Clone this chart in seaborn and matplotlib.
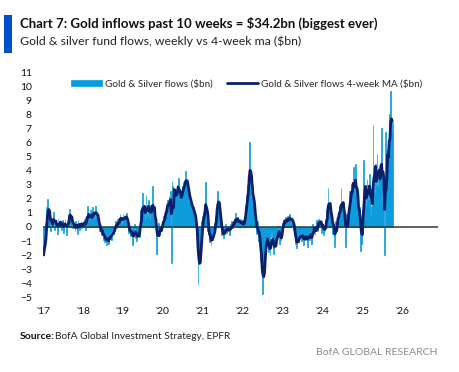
import numpy as np
import pandas as pd
import matplotlib
matplotlib.use("Agg")
import matplotlib.pyplot as plt
import seaborn as sns

# weekly gold & silver fund flows ($bn), one list per year
flows_2017 = [-2.0, -1.2, -0.8, 0.3, 1.4, 2.0, 0.6, 1.0,
              0.8, -0.3, 0.5, 0.2, 0.4, 1.1, -0.2, 0.3,
              0.5, 0.2, -0.5, 0.6, 0.3, 0.1, 0.4, -0.2,
              0.3, 0.5, -0.4, 0.2, 0.6, 0.1, -0.6, 0.4,
              0.9, 0.5, 1.3, 0.7, 0.3, 0.6, -0.1, 0.2,
              0.1, -0.3, 0.4, 0.2, -0.5, 0.5, 0.3, -0.2,
              0.2, 0.4, -0.1, 0.3]
flows_2018 = [0.3, 0.1, 0.6, -0.2, 0.8, 1.5, 0.4, 0.9,
              0.5, 1.2, 0.3, 0.7, 1.4, 0.8, 1.1, 0.6,
              1.5, 0.9, 0.7, 0.4, 0.2, -0.3, 0.1, -0.4,
              -0.6, -0.2, -0.9, -0.5, -1.1, -0.7, -1.3, -0.6,
              -0.9, -1.2, -0.4, -0.8, -0.3, -0.9, -0.2, -0.5,
              0.1, -0.3, 0.4, 0.2, -0.1, 0.6, 0.3, 0.5,
              0.9, 0.4, 0.7, 0.2]
flows_2019 = [0.9, 0.5, 0.8, 0.6, 1.0, 0.3, 0.2, -0.4,
              -0.2, -0.7, 0.1, -0.5, -1.3, -0.2, -0.6, 0.2,
              -0.8, -0.4, -1.0, -0.5, -0.3, -0.7, 0.4, 1.2,
              0.8, 2.4, 1.1, 0.9, 1.5, 0.6, 2.3, 1.0,
              0.7, 1.9, 1.2, 0.5, 1.6, 0.9, 2.9, 0.8,
              0.6, 1.3, 0.2, -0.1, -1.9, -0.5, 0.3, -0.4,
              -0.6, 0.1, -0.2, 0.4]
flows_2020 = [0.4, 0.8, 0.3, 1.2, 1.7, 1.1, 1.9, 1.4,
              2.2, 1.6, 2.6, -2.6, 3.3, 2.9, 2.0, 2.5,
              1.8, 2.7, 2.2, 3.0, 3.5, 2.1, 1.9, 2.4,
              2.0, 2.6, 2.9, 3.2, 2.7, 3.3, 4.0, 3.1,
              2.8, 2.2, 2.5, 1.7, 1.9, 1.3, 1.6, 1.0,
              1.4, 0.6, 0.9, 0.2, -0.5, -1.5, -4.1, -2.6,
              -2.2, -1.3, -0.6, 0.4]
flows_2021 = [0.8, 1.1, 0.6, 1.5, 3.2, 0.4, -0.3, 0.2,
              -0.6, -1.1, -0.8, -1.3, -0.5, -0.9, -0.2, -0.6,
              0.3, 0.8, 1.2, 2.6, 1.9, 1.5, 0.9, 0.4,
              -0.2, -0.6, -0.3, -0.8, -0.1, -0.5, 0.2, -0.4,
              -0.1, -0.3, 0.1, -0.6, 0.2, -0.2, 0.4, -0.1,
              0.3, 0.6, 0.1, 1.0, 0.4, 0.2, 0.7, 0.3,
              0.5, -0.1, 0.6, 0.2]
flows_2022 = [0.2, 0.5, -0.1, 0.7, 1.5, 2.3, 1.8, 2.9,
              3.4, 6.1, 3.8, 2.6, 2.1, 3.0, 1.4, 1.7,
              0.6, 0.2, -0.5, -0.3, 0.4, -1.0, -0.6, -1.8,
              -2.4, -3.1, -4.8, -3.5, -2.8, -1.9, -0.8, -0.5,
              -1.2, -0.9, -1.8, -1.5, -2.0, -0.7, -0.3, -0.9,
              -1.6, -1.9, -1.2, -0.8, -1.4, -0.2, -0.6, 0.1,
              -0.6, -1.2, -0.9, -0.4]
flows_2023 = [0.3, 0.6, 0.1, 0.4, 0.7, 0.2, 0.5, 0.8,
              0.3, 0.6, 0.9, 0.4, 0.2, 0.7, 0.5, -0.2,
              -0.6, -1.2, -0.9, -1.5, -0.7, -1.1, -0.4, -0.8,
              -0.5, -1.0, -0.3, -0.7, -1.3, -0.6, -0.9, -0.4,
              -0.8, -1.4, -0.5, -0.2, -0.9, -0.6, -1.2, -0.3,
              0.2, -0.4, 0.1, -0.6, -0.2, 0.5, -0.3, 0.4,
              0.6, 0.1, 0.3, 0.5]
flows_2024 = [-0.4, 0.2, -0.6, 0.1, -0.3, 0.5,
              1.2, 0.9, 2.8, 1.6, 1.4,
              0.9, 0.4, 0.6, -0.5, 0.2,
              -0.3, -1.4, 0.4, 0.1, 0.7,
              1.1, 0.8, 1.5, 0.9, 2.8,
              1.3, 1.7, 1.2, 0.6,
              0.2, -1.4, 0.9, 0.4,
              0.8, 1.4, 2.6, 1.9, 2.4, 3.1,
              2.7, 4.3, 2.0, 2.6, 4.5,
              2.2, 1.8, 1.0, 0.6, 1.4, -0.3, -1.7]
flows_2025 = [-1.2, 1.0, 4.8, 1.6, 2.2, 3.0, 1.5, 3.4,
              2.6, 1.9, 3.8, 2.3, 0.8, 1.5, 2.0, 7.3,
              3.1, 2.4, 4.5, 3.0, 5.2, 2.8, 3.9, 4.4,
              2.6, 3.8, 7.1, 1.8, 3.0, 2.2, -2.0, 6.8,
              3.6, 5.5, 4.8, 6.0, 8.1, 6.3, 9.7, 6.8, 7.5]

flows = (flows_2017 + flows_2018 + flows_2019 + flows_2020 + flows_2021
         + flows_2022 + flows_2023 + flows_2024 + flows_2025)
dates = pd.date_range("2017-01-06", periods=len(flows), freq="W-FRI")

df = pd.DataFrame({"date": dates, "flows": flows})
df["ma4"] = df["flows"].rolling(4, min_periods=1).mean()

year_ticks = pd.to_datetime([f"{y}-01-01" for y in range(2017, 2027)])
year_labels = [f"'{str(y)[2:]}" for y in range(2017, 2027)]

sns.set_style("white")
plt.rcParams["font.family"] = ["Lato", "DejaVu Sans"]

fig = plt.figure(figsize=(4.59, 3.72), dpi=100)
ax = fig.add_axes([0.0937, 0.2016, 0.8603, 0.6022])

bar_col = "#0a9bdc"
ma_col = "#0b1f6b"

ax.bar(df["date"], df["flows"], width=7, color=bar_col,
       edgecolor=bar_col, linewidth=0.5,
       label="Gold & Silver flows ($bn)", zorder=2)
ax.axhline(0, color="#2b3a3a", lw=1.1, zorder=3)
sns.lineplot(data=df, x="date", y="ma4", ax=ax, color=ma_col, lw=2.0,
             label="Gold & Silver flows 4-week MA ($bn)", zorder=4)

ax.set_ylim(-5, 11)
ax.set_yticks(range(-5, 12))
ax.set_xlim(pd.Timestamp("2017-01-01"), pd.Timestamp("2026-11-25"))
ax.set_xticks(year_ticks)
ax.set_xticklabels(year_labels)
ax.set_xlabel("")
ax.set_ylabel("")
ax.tick_params(axis="both", length=0, labelsize=7.5, colors="#111111")
ax.tick_params(axis="y", pad=8)
ax.tick_params(axis="x", pad=7)
for s in ax.spines.values():
    s.set_visible(False)

handles, labels = ax.get_legend_handles_labels()
order = [labels.index("Gold & Silver flows ($bn)"),
         labels.index("Gold & Silver flows 4-week MA ($bn)")]
ax.legend([handles[i] for i in order], [labels[i] for i in order],
          loc="upper left", bbox_to_anchor=(0.055, 1.0), ncol=2,
          frameon=False, fontsize=7.1, handlelength=3.2,
          handleheight=0.6, columnspacing=1.4, handletextpad=0.3,
          borderaxespad=0.2)

# header
fig.patches.append(plt.Rectangle((4 / 459, 1 - 53 / 372), 8 / 459, 38 / 372,
                                 transform=fig.transFigure, color="#0050c8",
                                 lw=0))
fig.text(20 / 459, 1 - 28 / 372,
         "Chart 7: Gold inflows past 10 weeks = $34.2bn (biggest ever)",
         fontsize=9.5, fontweight="bold", va="baseline", color="#111111")
fig.text(20 / 459, 1 - 45 / 372,
         "Gold & silver fund flows, weekly vs 4-week ma ($bn)",
         fontsize=8.8, va="baseline", color="#222222")

# footer
fig.text(20 / 459, 1 - 339 / 372, "Source:", fontsize=7.5,
         fontweight="bold", va="baseline", color="#111111")
fig.text(55 / 459, 1 - 339 / 372, "BofA Global Investment Strategy, EPFR",
         fontsize=7.3, va="baseline", color="#222222")
fig.text(437 / 459, 1 - 355 / 372, "BofA GLOBAL RESEARCH", fontsize=7.5,
         ha="right", va="baseline", color="#8a8a8a")

fig.savefig("out.png", dpi=100)
